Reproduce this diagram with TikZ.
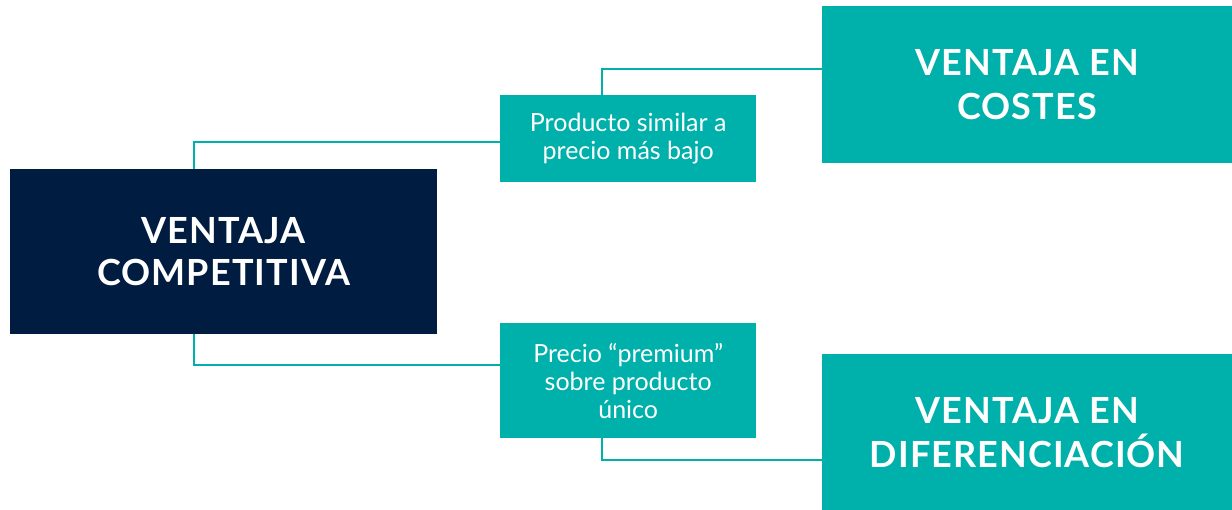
\documentclass[tikz,border=0pt]{standalone}
\usepackage{fontspec}
\setmainfont{Lato}
\usetikzlibrary{
    positioning,
    calc
}
\definecolor{navy}{RGB}{0,28,64}
\definecolor{teal}{RGB}{0,176,170}

\begin{document}
\begin{tikzpicture}[x=1pt, y=-1pt]

    % --- Estilos ---
    \tikzset{
        box/.style={anchor=north west, inner sep=0pt, align=center, text=white},
        main_box/.style={box, fill=navy, minimum width=427pt, minimum height=165pt,
            font=\fontsize{36}{42}\selectfont\bfseries\addfontfeature{LetterSpace=3}},
        goal_box/.style={box, fill=teal, minimum width=410pt, minimum height=157pt,
            font=\fontsize{36}{44}\selectfont\bfseries\addfontfeature{LetterSpace=3}},
        mid_box/.style={box, fill=teal, minimum width=256pt,
            font=\fontsize{25}{28}\selectfont},
        link/.style={draw=teal, line width=2pt}
    }

    % --- Marco ---
    \useasboundingbox (0,0) rectangle (1232,510);

    % --- Cajas ---
    \node[main_box] (comp) at (10,169) {VENTAJA\\COMPETITIVA};
    \node[goal_box] (costes) at (822,6) {VENTAJA EN\\COSTES};
    \node[goal_box, minimum height=156pt] (difer) at (822,354) {VENTAJA EN\\DIFERENCIACIÓN};
    \node[mid_box, minimum height=87pt] (bajo) at (500,95) {Producto similar a\\precio más bajo};
    \node[mid_box, minimum height=115pt] (premium) at (500,323) {Precio “premium”\\sobre producto\\único};

    % --- Conectores ---
    \draw[link] ([xshift=-30pt]comp.north) |- ([yshift=-3pt]bajo.west);
    \draw[link] ([xshift=-26pt]bajo.north) |- ([yshift=15.5pt]costes.west);
    \draw[link] ([xshift=-30pt]comp.south) |- ([yshift=15.5pt]premium.west);
    \draw[link] ([xshift=-26pt]premium.south) |- ([yshift=-28pt]difer.west);

\end{tikzpicture}
\end{document}
